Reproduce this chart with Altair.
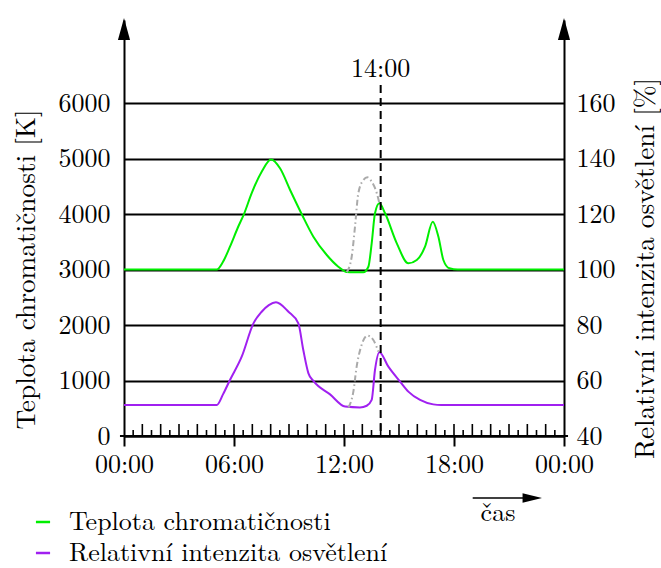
import altair as alt
import pandas as pd

# ---------------- data ----------------
SERIES_CCT = "Teplota chromatičnosti"
SERIES_INT = "Relativní intenzita osvětlení"

cct_hours = [0, 5.06, 5.4, 5.78, 6.2, 6.56, 6.96, 7.51, 8.02, 8.51, 9.06, 9.69, 10.33,
             11.06, 11.69, 12.15, 12.5, 13.05, 13.33, 13.51, 13.69, 13.93, 14.24, 14.88,
             15.51, 15.97, 16.42, 16.84, 17.15, 17.42, 17.75, 18.2, 24]
cct_values = [3000, 3000, 3140, 3413, 3750, 4015, 4375, 4765, 4985, 4826, 4435, 4002, 3593,
              3263, 3052, 2955, 2950, 2950, 3052, 3474, 4015, 4195, 4015, 3474,
              3113, 3173, 3413, 3864, 3593, 3173, 3023, 3000, 3000]

cct_alt_hours = [12.15, 12.42, 12.6, 12.78, 13.06, 13.28, 13.51, 13.79, 13.93]
cct_alt_values = [2955, 3232, 3773, 4375, 4615, 4664, 4585, 4375, 4195]

int_hours = [0, 5.06, 5.4, 5.78, 6.42, 7.06, 7.51, 7.9, 8.29, 8.97, 9.51, 9.78, 10.06,
             10.33, 11.24, 12.06, 12.87, 13.24, 13.51, 13.69, 13.93, 14.42, 15.06, 15.51,
             16.15, 16.87, 17.3, 24]
int_values = [51.2, 51.2, 55.0, 60.2, 68.6, 80.6, 84.8, 87.2, 88.2, 84.8, 80.6, 71.0, 62.6,
              59.9, 55.0, 50.6, 50.3, 50.9, 53.0, 63.8, 70.2, 65.0, 59.6, 56.0,
              53.0, 51.4, 51.2, 51.2]

int_alt_hours = [12.24, 12.51, 12.69, 12.96, 13.28, 13.6, 13.88]
int_alt_values = [50.3, 56.0, 65.0, 72.8, 76.2, 74.6, 70.4]

x_tick_hours = [0, 6, 12, 18, 24]
x_tick_labels = ["00:00", "06:00", "12:00", "18:00", "00:00"]
left_ticks = [0, 1000, 2000, 3000, 4000, 5000, 6000]
right_ticks = [40, 60, 80, 100, 120, 140, 160]
left_domain = [0, 7500]
right_domain = [40, 190]

marker_hour = [14]
marker_label = ["14:00"]
axis_ends = [0, 24]
axis_overhang = [-0.22, 24.22]
hour_ticks = list(range(1, 24))
half_ticks = [h + 0.5 for h in range(24)]

time_arrow_start = [19.02]
time_arrow_end = [21.8]
time_arrow_head = [22.27]
time_label_pos = [20.4]
time_label = ["čas"]

# ---------------- style ----------------
FONT = "Latin Modern Roman"
FS = 26
TFS = 27.3
GREEN = "#00ee00"
PURPLE = "#a020f0"
GRAY = "#aaaaaa"
W, H = 440, 416

xscale = alt.Scale(domain=[0, 24], nice=False, zero=False)
color_scale = alt.Scale(domain=[SERIES_CCT, SERIES_INT], range=[GREEN, PURPLE])

label_expr = " : ".join(
    f"datum.value == {h} ? '{l}'" for h, l in zip(x_tick_hours, x_tick_labels)
) + " : ''"

x_axis = alt.Axis(values=x_tick_hours, labelExpr=label_expr, title=None, grid=False,
                  tickSize=10, tickWidth=2, tickColor="black", domainColor="black",
                  domainWidth=2, labelFont=FONT, labelFontSize=FS, labelColor="black",
                  labelPadding=5, labelFlush=False)

left_axis = alt.Axis(values=left_ticks, format="d", title="Teplota chromatičnosti [K]",
                     grid=True, gridColor="black", gridWidth=2, gridOpacity=1, ticks=False,
                     domainColor="black", domainWidth=2, labelFont=FONT, labelFontSize=FS,
                     labelColor="black", labelPadding=14, titleFont=FONT,
                     titleFontSize=TFS, titleFontWeight="normal", titleColor="black",
                     titleAngle=270, titleX=-90, titleY=249, titleAlign="center",
                     titleBaseline="alphabetic")

right_axis = alt.Axis(values=right_ticks, format="d", orient="right",
                      title="Relativní intenzita osvětlení [%]", grid=False, ticks=False,
                      domainColor="black", domainWidth=2, labelFont=FONT, labelFontSize=FS,
                      labelColor="black", labelPadding=12, titleFont=FONT,
                      titleFontSize=TFS, titleFontWeight="normal", titleColor="black",
                      titleAngle=270, titleX=89.5, titleY=248, titleAlign="center",
                      titleBaseline="alphabetic")

cct_df = pd.DataFrame({"h": cct_hours, "v": cct_values, "s": SERIES_CCT})
int_df = pd.DataFrame({"h": int_hours, "v": int_values, "s": SERIES_INT})
cct_alt_df = pd.DataFrame({"h": cct_alt_hours, "v": cct_alt_values})
int_alt_df = pd.DataFrame({"h": int_alt_hours, "v": int_alt_values})

legend = alt.Legend(title=None, orient="none", legendX=-94, legendY=489, symbolType="stroke",
                    symbolSize=200, symbolStrokeWidth=2.5, labelFont=FONT,
                    labelFontSize=FS, labelColor="black", rowPadding=5, labelOffset=13,
                    padding=0, labelLimit=0)

X = alt.X("h:Q", scale=xscale, axis=x_axis)

cct_line = alt.Chart(cct_df).mark_line(interpolate="monotone", strokeWidth=2).encode(
    x=X,
    y=alt.Y("v:Q", scale=alt.Scale(domain=left_domain, nice=False, zero=False),
            axis=left_axis),
    color=alt.Color("s:N", scale=color_scale, legend=legend),
)

int_line = alt.Chart(int_df).mark_line(interpolate="monotone", strokeWidth=2).encode(
    x=X,
    y=alt.Y("v:Q", scale=alt.Scale(domain=right_domain, nice=False, zero=False),
            axis=right_axis),
    color=alt.Color("s:N", scale=color_scale, legend=legend),
)

cct_alt = alt.Chart(cct_alt_df).mark_line(interpolate="monotone", strokeWidth=2,
                                           strokeDash=[6, 3, 1.5, 3], color=GRAY).encode(
    x=X,
    y=alt.Y("v:Q", scale=alt.Scale(domain=left_domain, nice=False, zero=False), axis=None),
)

int_alt = alt.Chart(int_alt_df).mark_line(interpolate="monotone", strokeWidth=2,
                                           strokeDash=[6, 3, 1.5, 3], color=GRAY).encode(
    x=X,
    y=alt.Y("v:Q", scale=alt.Scale(domain=right_domain, nice=False, zero=False), axis=None),
)

base_line = alt.Chart(pd.DataFrame({"h": [axis_overhang[0]], "b": [axis_overhang[1]]})).mark_rule(
    color="black", strokeWidth=2).encode(
    x=X, x2="b:Q", y=alt.value(H))

tall_ticks = alt.Chart(pd.DataFrame({"h": hour_ticks})).mark_rule(
    color="black", strokeWidth=1.6).encode(
    x=X, y=alt.value(H), y2=alt.value(H - 12))

short_ticks = alt.Chart(pd.DataFrame({"h": half_ticks})).mark_rule(
    color="black", strokeWidth=1.6).encode(
    x=X, y=alt.value(H), y2=alt.value(H - 6))

marker = alt.Chart(pd.DataFrame({"h": marker_hour})).mark_rule(
    color="black", strokeWidth=2, strokeDash=[8, 5]).encode(
    x=X, y=alt.value(65), y2=alt.value(H))

marker_text = alt.Chart(pd.DataFrame({"h": marker_hour, "t": marker_label})).mark_text(
    font=FONT, fontSize=FS, color="black", align="center", baseline="alphabetic").encode(
    x=X, y=alt.value(57), text="t:N")

arrow_up = alt.Chart(pd.DataFrame({"h": axis_ends})).mark_point(
    shape="M0,-1L0.55,1L-0.55,1Z", size=484, filled=True, color="black", opacity=1,
    strokeWidth=0).encode(
    x=X, y=alt.value(9))

time_line = alt.Chart(pd.DataFrame({"h": time_arrow_start, "b": time_arrow_end})).mark_rule(
    color="black", strokeWidth=1.5).encode(
    x=X, x2="b:Q", y=alt.value(478))

time_head = alt.Chart(pd.DataFrame({"h": time_arrow_head})).mark_point(
    shape="M-1,-0.5L1,0L-1,0.5Z", size=380, filled=True, color="black", opacity=1,
    strokeWidth=0).encode(
    x=X, y=alt.value(478))

time_text = alt.Chart(pd.DataFrame({"h": time_label_pos, "t": time_label})).mark_text(
    font=FONT, fontSize=FS, color="black", align="center", baseline="alphabetic").encode(
    x=X, y=alt.value(501), text="t:N")

chart = alt.layer(
    cct_line, int_line, cct_alt, int_alt, base_line, tall_ticks, short_ticks, marker,
    marker_text, arrow_up, time_line, time_head, time_text
).resolve_scale(y="independent").properties(
    width=W, height=H,
    autosize=alt.AutoSizeParams(type="none"),
    padding={"left": 124, "top": 20, "right": 97, "bottom": 132},
).configure(font=FONT, background="white").configure_view(stroke=None)

chart.save("out.html", embed_options={"renderer": "svg", "actions": False})
